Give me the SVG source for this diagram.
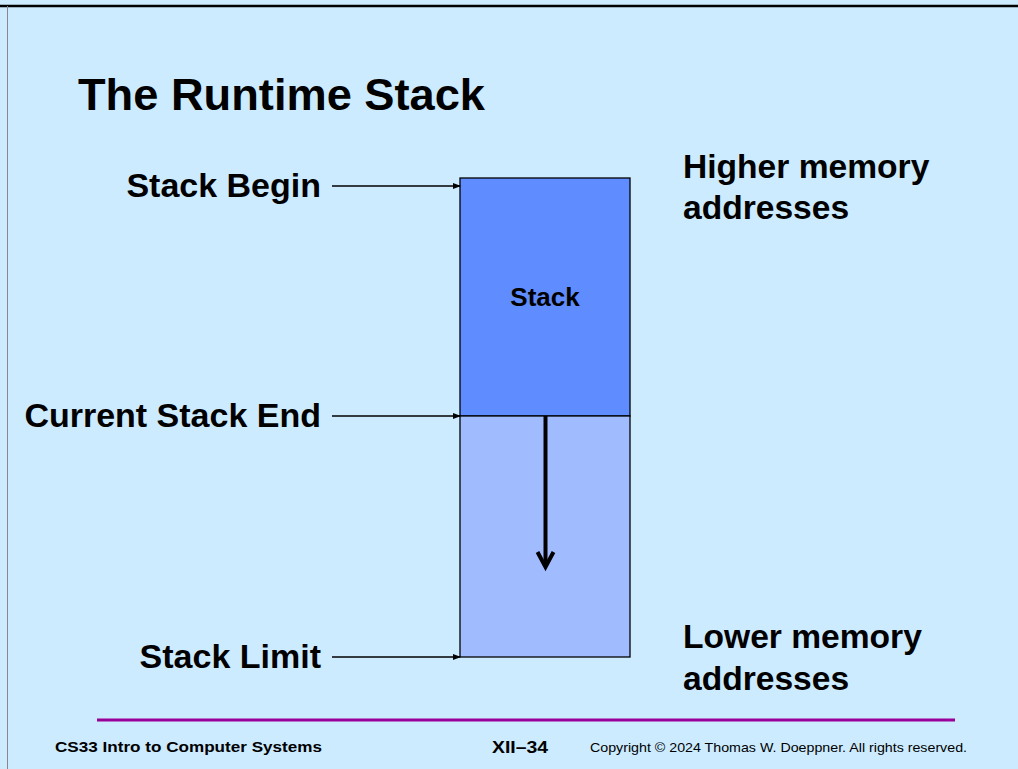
<svg xmlns="http://www.w3.org/2000/svg" width="1018" height="769" viewBox="0 0 1018 769">
<style>
text{font-family:"Liberation Sans",Arial,sans-serif;fill:#000}
.b{font-weight:bold}
.lbl{font-size:34px;font-weight:bold;text-anchor:end}
.side{font-size:33.6px;font-weight:bold}
.conn{stroke:#000;stroke-width:1.3;fill:none}
</style>
<defs>
<marker id="ah" markerWidth="8" markerHeight="8" refX="7" refY="4" orient="auto" markerUnits="userSpaceOnUse">
<path d="M0,1 L8,4 L0,7 Z" fill="#000"/>
</marker>
</defs>
<rect x="0" y="0" width="1018" height="769" fill="#CCEBFF"/>
<line x1="0" y1="6" x2="1018" y2="6" stroke="#000" stroke-width="2.5"/>
<line x1="7.5" y1="6" x2="7.5" y2="769" stroke="#888" stroke-width="1"/>
<text x="78" y="110" class="b" font-size="45" textLength="407" lengthAdjust="spacingAndGlyphs">The Runtime Stack</text>
<g id="stack-top">
<rect x="460" y="178" width="170" height="238" fill="#5F8DFF" stroke="#000" stroke-width="1.3"/>
<text x="545" y="306" class="b" font-size="26" text-anchor="middle">Stack</text>
</g>
<g id="stack-free">
<rect x="460" y="416" width="170" height="241" fill="#A0BCFF" stroke="#000" stroke-width="1.3"/>
</g>
<g id="label-begin"><text x="321" y="197" class="lbl">Stack Begin</text></g>
<g id="label-end"><text x="321" y="427" class="lbl">Current Stack End</text></g>
<g id="label-limit"><text x="321" y="668" class="lbl">Stack Limit</text></g>
<g id="label-higher"><text x="683" y="178" class="side">Higher memory</text><text x="683" y="219" class="side">addresses</text></g>
<g id="label-lower"><text x="683" y="648" class="side">Lower memory</text><text x="683" y="690" class="side">addresses</text></g>
<g id="connectors">
<line x1="332" y1="186" x2="460" y2="186" class="conn" marker-end="url(#ah)"/>
<line x1="332" y1="416" x2="460" y2="416" class="conn" marker-end="url(#ah)"/>
<line x1="332" y1="657" x2="460" y2="657" class="conn" marker-end="url(#ah)"/>
<line x1="545.5" y1="416" x2="545.5" y2="566" stroke="#000" stroke-width="4"/>
<polyline points="537.5,552 545.5,567 553.5,552" fill="none" stroke="#000" stroke-width="4"/>
</g>
<g id="footer">
<line x1="97" y1="720" x2="955" y2="720" stroke="#990099" stroke-width="3"/>
<text x="55" y="752" class="b" font-size="15" textLength="267" lengthAdjust="spacingAndGlyphs">CS33 Intro to Computer Systems</text>
<text x="492" y="753" class="b" font-size="17" textLength="56" lengthAdjust="spacingAndGlyphs">XII–34</text>
<text x="590" y="752" font-size="13" textLength="377" lengthAdjust="spacingAndGlyphs">Copyright © 2024 Thomas W. Doeppner. All rights reserved.</text>
</g>
</svg>
